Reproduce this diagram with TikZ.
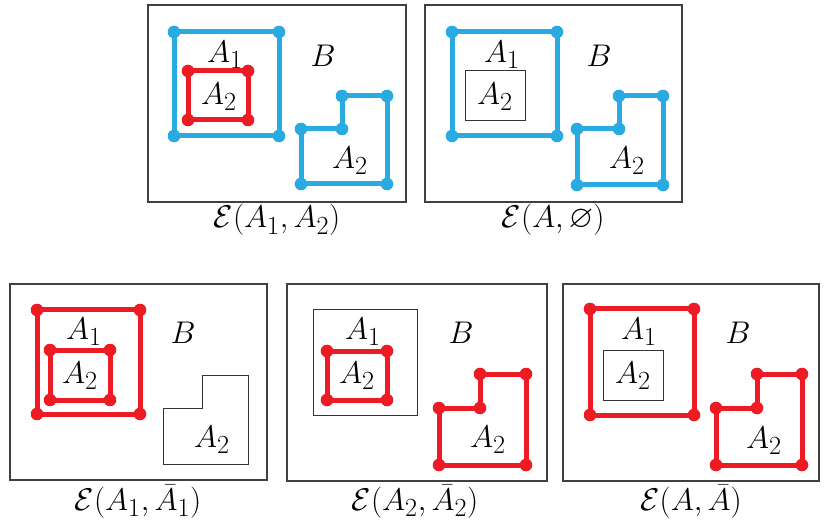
\documentclass[tikz,border=0pt]{standalone}
\usepackage{amssymb}
\definecolor{cblue}{RGB}{41,171,226}
\definecolor{cred}{RGB}{237,28,36}
\begin{document}
\begin{tikzpicture}[x=1pt,y=-1pt,
  frame/.style={draw=black!75, line width=1.3pt},
  thinbox/.style={draw=black!80, line width=1pt},
  bluel/.style={draw=cblue, line width=5pt},
  redl/.style={draw=cred, line width=5pt},
  lbl/.style={font=\fontsize{24.88}{30}\selectfont, inner sep=0pt, scale=1.26},
  caption/.style={lbl, anchor=base},
]
\useasboundingbox (0,0) rectangle (830,529);
\newcommand\cornerdots[2]{\foreach \p in {#2} \fill[#1] \p circle (6.3);}

% ---------- Panel 1
\draw[frame] (148,5) rectangle (406,202);
\draw[bluel] (174,32) rectangle (279,136);
\cornerdots{cblue}{(174,32),(279,32),(279,136),(174,136)}
\draw[redl] (188,71) rectangle (248,120);
\cornerdots{cred}{(188,71),(248,71),(248,120),(188,120)}
\draw[bluel] (301,129) -- (342,129) -- (342,96) -- (387,96) -- (387,184) -- (301,184) -- cycle;
\cornerdots{cblue}{(301,129),(342,129),(342,96),(387,96),(387,184),(301,184)}
\node[lbl] (p1a1) at (225,55) {$A_1$};
\node[lbl] (p1b) at (323,56) {$B$};
\node[lbl] (p1a2) at (219,97) {$A_2$};
\node[lbl] (p1a2b) at (350,161) {$A_2$};
\node[caption] (p1cap) at (277,228) {$\mathcal{E}(A_1,A_2)$};

% ---------- Panel 2
\draw[frame] (425,5) rectangle (682,202);
\draw[bluel] (452,32) rectangle (557,136);
\cornerdots{cblue}{(452,32),(557,32),(557,136),(452,136)}
\draw[thinbox] (465,71) rectangle (525,121);
\draw[bluel] (577,129) -- (619,129) -- (619,96) -- (663,96) -- (663,185) -- (577,185) -- cycle;
\cornerdots{cblue}{(577,129),(619,129),(619,96),(663,96),(663,185),(577,185)}
\node[lbl] (p2a1) at (502,55) {$A_1$};
\node[lbl] (p2b) at (599,56) {$B$};
\node[lbl] (p2a2) at (495,97) {$A_2$};
\node[lbl] (p2a2b) at (627,161) {$A_2$};
\node[caption] (p2cap) at (553,228) {$\mathcal{E}(A,\varnothing)$};

% ---------- Panel 3
\draw[frame] (10,284) rectangle (267,480);
\draw[redl] (37,310) rectangle (140,414);
\cornerdots{cred}{(37,310),(140,310),(140,414),(37,414)}
\draw[redl] (50,350) rectangle (110,400);
\cornerdots{cred}{(50,350),(110,350),(110,400),(50,400)}
\draw[thinbox] (163,408) -- (202,408) -- (202,375) -- (248,375) -- (248,464) -- (163,464) -- cycle;
\node[lbl] (p3a1) at (84,332) {$A_1$};
\node[lbl] (p3b) at (183,333) {$B$};
\node[lbl] (p3a2) at (80,376) {$A_2$};
\node[lbl] (p3a2b) at (212,440) {$A_2$};
\node[caption] (p3cap) at (138,510) {$\mathcal{E}(A_1,\bar{A}_1)$};

% ---------- Panel 4
\draw[frame] (287,284) rectangle (547,481);
\draw[thinbox] (313,310) rectangle (417,415);
\draw[redl] (327,351) rectangle (387,400);
\cornerdots{cred}{(327,351),(387,351),(387,400),(327,400)}
\draw[redl] (439,408) -- (480,408) -- (480,374) -- (526,374) -- (526,465) -- (439,465) -- cycle;
\cornerdots{cred}{(439,408),(480,408),(480,374),(526,374),(526,465),(439,465)}
\node[lbl] (p4a1) at (363,332) {$A_1$};
\node[lbl] (p4b) at (461,333) {$B$};
\node[lbl] (p4a2) at (357,376) {$A_2$};
\node[lbl] (p4a2b) at (488,440) {$A_2$};
\node[caption] (p4cap) at (415,510) {$\mathcal{E}(A_2,\bar{A}_2)$};

% ---------- Panel 5
\draw[frame] (563,284) rectangle (819,481);
\draw[redl] (590,309) rectangle (694,415);
\cornerdots{cred}{(590,309),(694,309),(694,415),(590,415)}
\draw[thinbox] (603,350) rectangle (663,400);
\draw[redl] (716,408) -- (757,408) -- (757,374) -- (802,374) -- (802,465) -- (716,465) -- cycle;
\cornerdots{cred}{(716,408),(757,408),(757,374),(802,374),(802,465),(716,465)}
\node[lbl] (p5a1) at (639,332) {$A_1$};
\node[lbl] (p5b) at (738,333) {$B$};
\node[lbl] (p5a2) at (633,376) {$A_2$};
\node[lbl] (p5a2b) at (764,441) {$A_2$};
\node[caption] (p5cap) at (691,510) {$\mathcal{E}(A,\bar{A})$};
\end{tikzpicture}
\end{document}
